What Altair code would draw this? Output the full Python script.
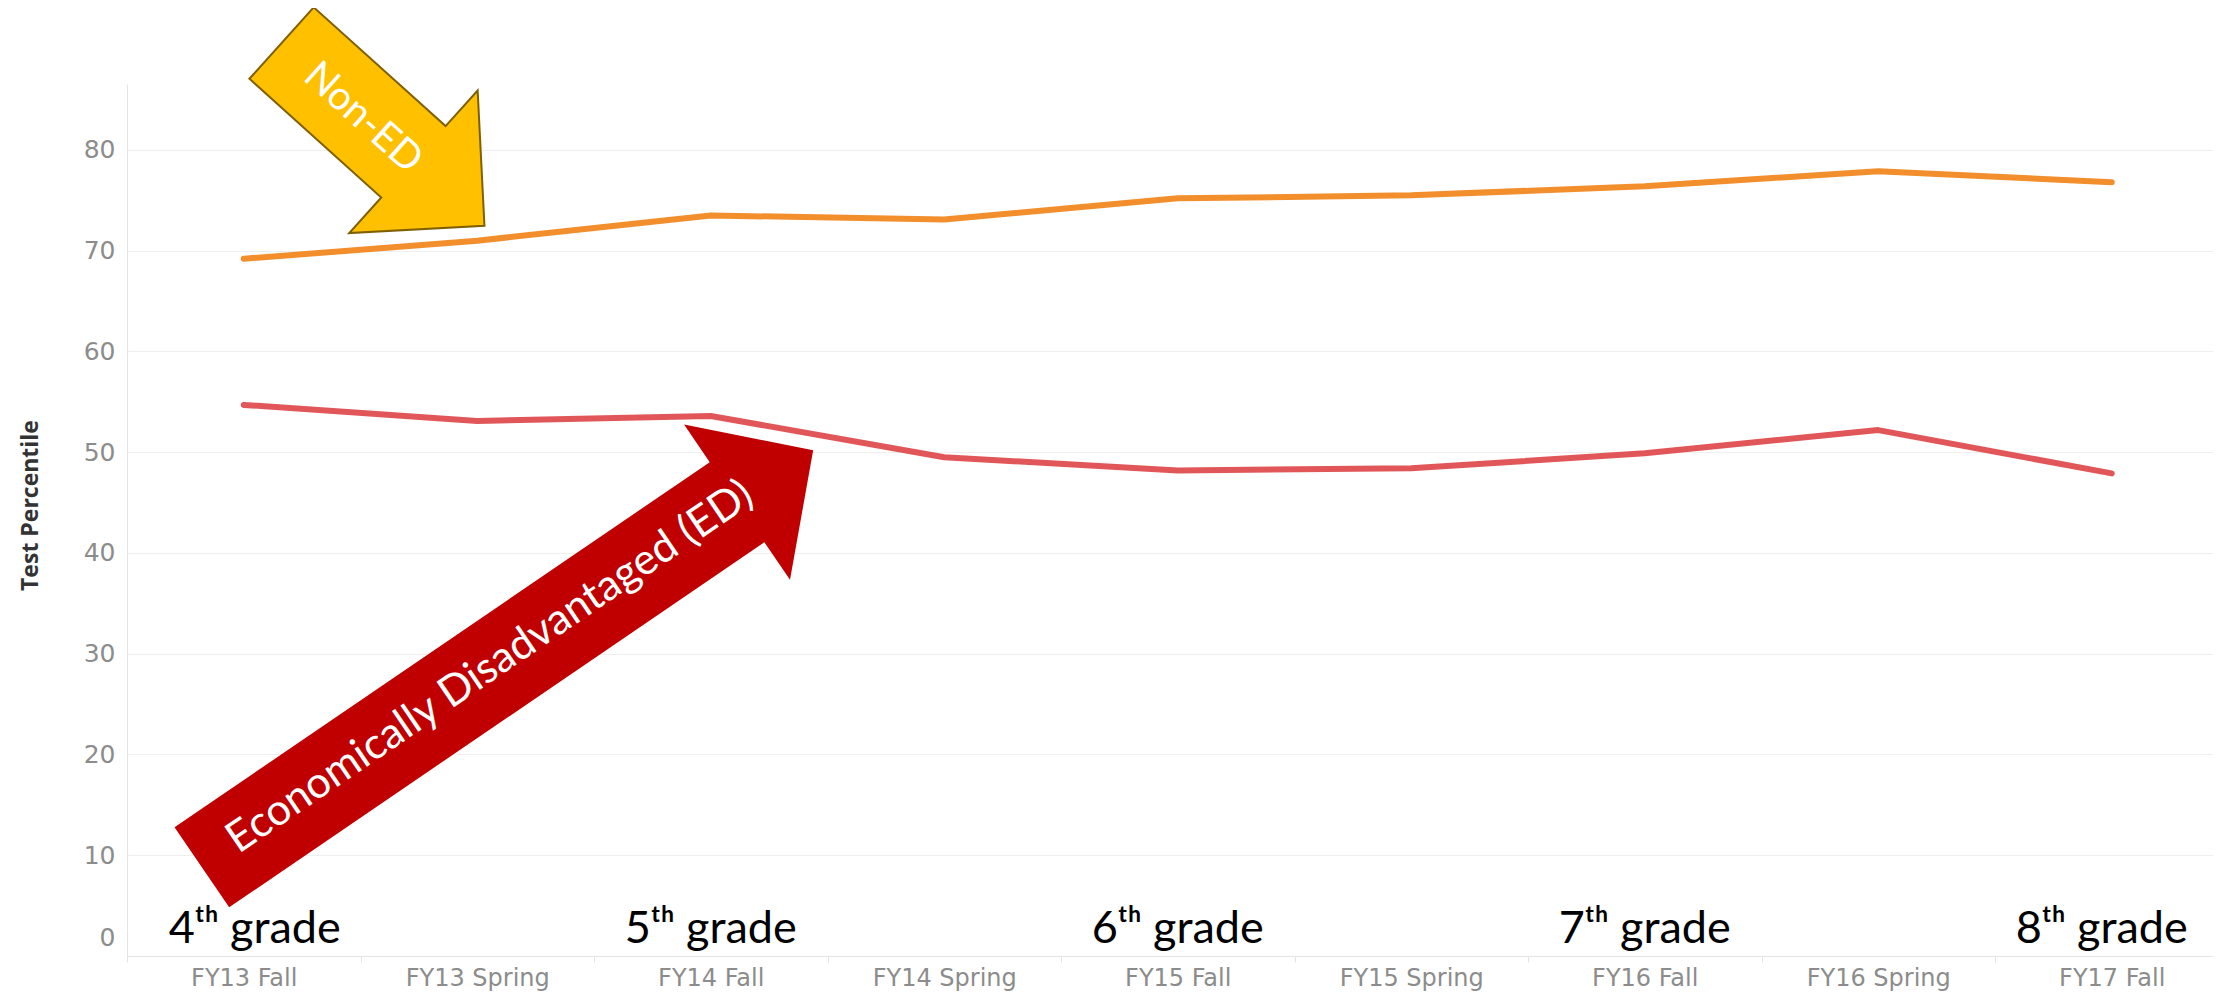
import altair as alt
import pandas as pd

# ---- data ----
periods = ["FY13 Fall", "FY13 Spring", "FY14 Fall", "FY14 Spring", "FY15 Fall",
           "FY15 Spring", "FY16 Fall", "FY16 Spring", "FY17 Fall"]
non_ed = [69.2, 71.0, 73.5, 73.1, 75.2, 75.5, 76.4, 77.9, 76.8]
ed = [54.7, 53.1, 53.6, 49.5, 48.2, 48.4, 49.9, 52.2, 47.9]
groups = ["Non-ED", "ED"]
line_colors = ["#F28E2B", "#E15759"]
y_ticks = [0, 10, 20, 30, 40, 50, 60, 70, 80]
grade_periods = ["FY13 Fall", "FY14 Fall", "FY15 Fall", "FY16 Fall", "FY17 Fall"]
grade_labels = ["4ᵗʰ grade", "5ᵗʰ grade", "6ᵗʰ grade", "7ᵗʰ grade", "8ᵗʰ grade"]
arrow_labels = ["Non-ED", "Economically Disadvantaged (ED)"]

df = pd.DataFrame({
    "period": periods * 2,
    "group": [groups[0]] * len(periods) + [groups[1]] * len(periods),
    "value": non_ed + ed,
})
grades = pd.DataFrame({"period": grade_periods, "label": grade_labels})

W, H = 2086, 872

x_scale = alt.Scale(type="band", domain=periods, range=[0, 2101.5],
                    paddingInner=0, paddingOuter=0)
x_axis = alt.Axis(title=None, labelAngle=0, labelFont="DejaVu Sans", labelFontSize=24,
                  labelColor="#8c8c8c", labelPadding=4, tickSize=6, tickBand="extent",
                  grid=False, labelOverlap=False, domainColor="#e4e4e4", tickColor="#e4e4e4")
x_enc = alt.X("period:N", sort=periods, bandPosition=0.5, scale=x_scale, axis=x_axis)

y_enc = alt.Y("value:Q",
              scale=alt.Scale(domain=[0, 86.55], nice=False, zero=True),
              axis=alt.Axis(values=y_ticks, title="Test Percentile",
                            titleFont="Open Sans", titleFontSize=23, titleFontWeight="bold",
                            titleColor="#333333", titleAngle=270, titleX=-97, titleY=421,
                            titleBaseline="middle", titleAlign="center",
                            labelFont="DejaVu Sans", labelFontSize=25, labelColor="#8c8c8c",
                            labelPadding=12, ticks=False, labelFlush=True,
                            labelFlushOffset=-6,
                            domainColor="#e4e4e4", gridColor="#efefef"))

lines = alt.Chart(df).mark_line(strokeWidth=6, strokeCap="round", strokeJoin="round").encode(
    x=x_enc,
    y=y_enc,
    color=alt.Color("group:N", scale=alt.Scale(domain=groups, range=line_colors), legend=None),
)

grade_style = dict(font="Lato", fontSize=45, color="#000000", align="center", baseline="alphabetic")
grade_base = alt.Chart(grades).encode(x=x_enc, y=alt.value(859), text="label:N")
grade_mid = grade_base.mark_text(**grade_style).transform_filter(
    alt.FieldOneOfPredicate(field="period", oneOf=grade_periods[1:-1]))
grade_first = grade_base.mark_text(dx=11, **grade_style).transform_filter(
    alt.FieldEqualPredicate(field="period", equal=grade_periods[0]))
grade_last = grade_base.mark_text(dx=-10, **grade_style).transform_filter(
    alt.FieldEqualPredicate(field="period", equal=grade_periods[-1]))

yellow_path = "M -1 -0.352 L 0.3 -0.352 L 0.3 -0.703 L 1 0 L 0.3 0.703 L 0.3 0.352 L -1 0.352 Z"
red_path = "M -1 -0.131 L 0.751 -0.131 L 0.751 -0.254 L 1 0 L 0.751 0.254 L 0.751 0.131 L -1 0.131 Z"

ann_y = pd.DataFrame({"t": [arrow_labels[0]]})
ann_r = pd.DataFrame({"t": [arrow_labels[1]]})

yellow_arrow = alt.Chart(ann_y).mark_point(
    shape=yellow_path, size=74529, angle=42, filled=True, fill="#FFC000",
    stroke="#7F6000", strokeWidth=2, opacity=1
).encode(x=alt.value(256), y=alt.value(50.4))

yellow_text = alt.Chart(ann_y).mark_text(
    font="Lato", fontSize=40, color="white", angle=42, align="center", baseline="middle"
).encode(x=alt.value(236), y=alt.value(34), text="t:N")

red_arrow = alt.Chart(ann_r).mark_point(
    shape=red_path, size=547600, angle=325.7, filled=True, fill="#C00000",
    strokeWidth=0, opacity=1
).encode(x=alt.value(380.5), y=alt.value(574.8))

red_text = alt.Chart(ann_r).mark_text(
    font="Lato", fontSize=43, color="white", angle=325.7, align="center", baseline="middle"
).encode(x=alt.value(363), y=alt.value(583), text="t:N")

chart = alt.layer(lines, grade_mid, grade_first, grade_last,
                  yellow_arrow, yellow_text, red_arrow, red_text).properties(
    width=W, height=H,
    autosize=alt.AutoSizeParams(type="none"),
    padding={"left": 119, "top": 76, "right": 0, "bottom": 38},
    background="white",
).configure_view(stroke=None)

chart.save("out.html", embed_options={"renderer": "svg", "actions": False})
